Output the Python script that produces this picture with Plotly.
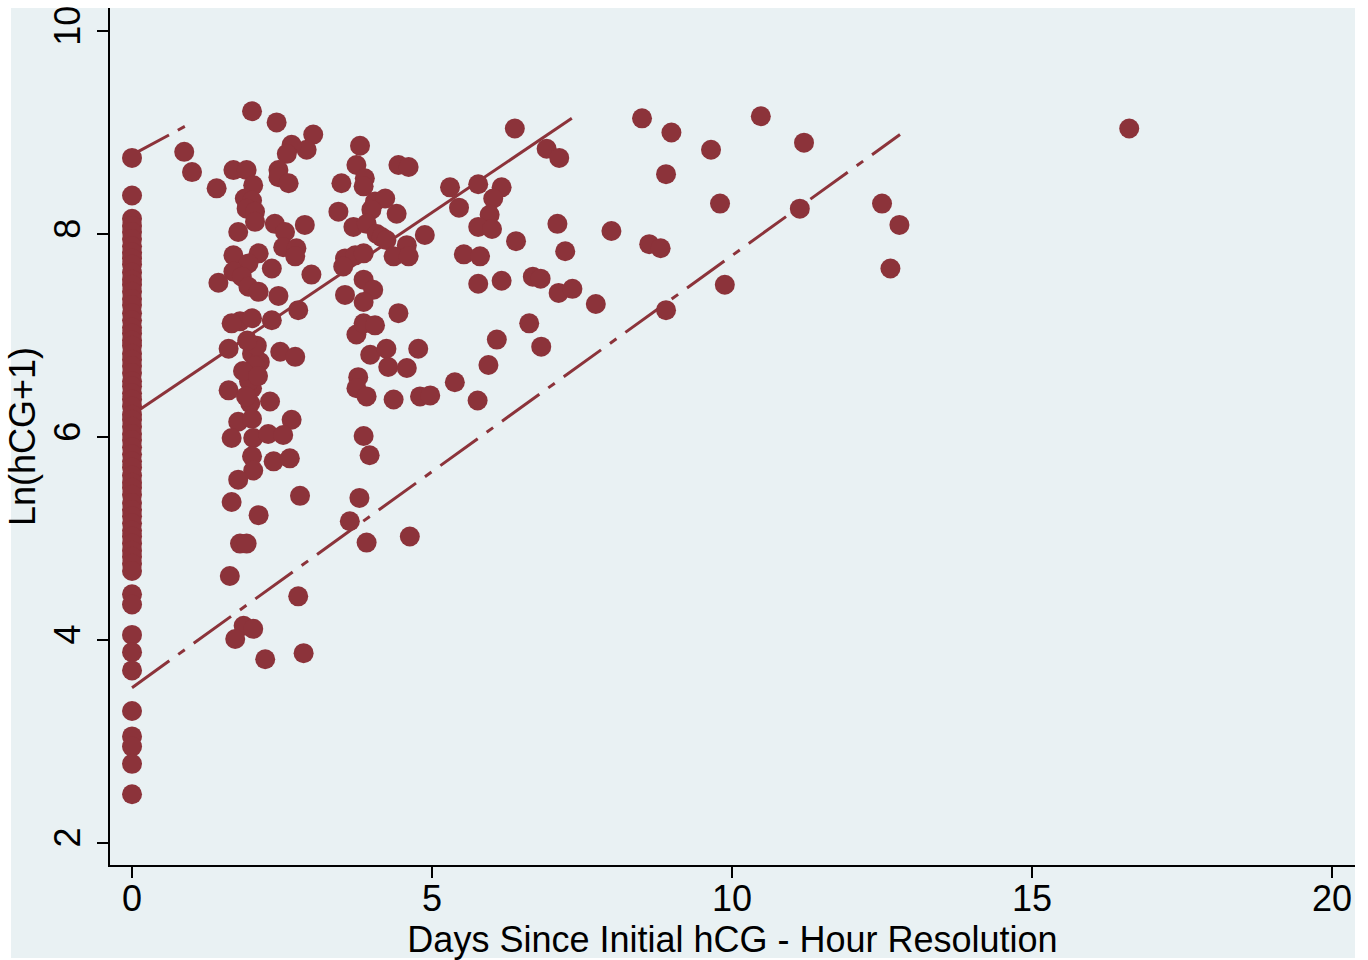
import plotly.graph_objects as go

# ---- data ----
day0_y = [8.75, 8.38, 8.15, 8.08, 8.02, 7.95, 7.88, 7.82, 7.76, 7.70, 7.62, 7.55, 7.50,
          7.43, 7.36, 7.30, 7.22, 7.15, 7.08, 7.02, 6.95, 6.90, 6.82, 6.76, 6.70, 6.63,
          6.55, 6.50, 6.43, 6.37, 6.30, 6.22, 6.17, 6.10, 6.03, 5.97, 5.90, 5.83, 5.76,
          5.70, 5.62, 5.55, 5.50, 5.43, 5.35, 5.28, 5.22, 5.15, 5.08, 5.02, 4.95, 4.88,
          4.82, 4.75, 4.68, 4.45, 4.35, 4.05, 3.88, 3.70, 3.30, 3.05, 2.95, 2.78, 2.48]
day0_x = [0.0] * len(day0_y)

early_x = [0.87, 1.00, 2.00, 2.41, 3.02, 2.91, 2.66, 2.58, 2.44, 2.44, 2.61, 1.69, 1.91,
           2.02, 1.41, 1.88, 2.00, 1.91, 2.05, 2.05, 1.77, 2.38, 2.55, 2.88, 2.52, 2.74,
           2.72, 2.99, 1.69, 2.11, 2.33, 1.94, 1.69, 1.83, 1.44, 1.94, 2.11, 2.44, 2.77,
           2.33, 1.80, 2.00, 1.66, 1.61, 2.00, 2.13, 2.47, 2.72, 2.02, 1.61, 2.00, 2.30,
           1.97, 1.77, 2.00, 2.66, 1.66, 2.02, 2.27, 2.52, 2.00, 2.02, 2.36, 2.63, 1.77,
           1.66, 2.80, 2.11, 1.80, 1.91, 1.63, 2.77, 1.86, 2.02, 1.72, 2.22, 2.86, 1.95,
           2.05, 1.90, 2.08, 1.85, 1.92, 2.10]
early_y = [8.81, 8.61, 9.21, 9.10, 8.98, 8.83, 8.88, 8.79, 8.63, 8.56, 8.50, 8.63, 8.63,
           8.48, 8.45, 8.35, 8.33, 8.25, 8.22, 8.12, 8.02, 8.10, 8.02, 8.09, 7.87, 7.86,
           7.78, 7.60, 7.79, 7.81, 7.66, 7.71, 7.63, 7.58, 7.52, 7.48, 7.43, 7.39, 7.25,
           7.15, 7.14, 7.17, 7.12, 6.87, 6.82, 6.74, 6.84, 6.79, 6.63, 6.46, 6.48, 6.35,
           6.33, 6.15, 6.18, 6.17, 5.99, 5.99, 6.03, 6.02, 5.81, 5.67, 5.76, 5.79, 5.58,
           5.36, 5.42, 5.23, 4.95, 4.95, 4.63, 4.43, 4.14, 4.11, 4.01, 3.81, 3.87, 6.55,
           6.70, 6.40, 6.90, 6.65, 6.95, 6.60]

mid_x = [3.80, 3.74, 3.88, 3.86, 3.49, 4.44, 4.61, 3.44, 4.05, 4.22, 4.41, 3.99, 3.69,
         3.91, 4.08, 4.16, 4.24, 4.58, 4.88, 4.36, 4.61, 3.55, 3.72, 3.86, 3.52, 3.86,
         4.02, 3.55, 3.86, 4.44, 3.74, 3.86, 4.05, 3.97, 4.24, 4.27, 4.58, 4.77, 3.77,
         3.74, 3.91, 4.36, 4.80, 4.97, 3.86, 3.96, 3.79, 3.63, 3.91, 4.63]
mid_y = [8.87, 8.68, 8.55, 8.47, 8.50, 8.68, 8.66, 8.22, 8.32, 8.35, 8.20, 8.24, 8.07,
         8.10, 8.00, 7.97, 7.94, 7.89, 7.99, 7.78, 7.78, 7.76, 7.79, 7.81, 7.68, 7.55,
         7.45, 7.40, 7.33, 7.22, 7.01, 7.12, 7.10, 6.81, 6.87, 6.69, 6.68, 6.87, 6.59,
         6.48, 6.40, 6.37, 6.40, 6.41, 6.01, 5.82, 5.40, 5.17, 4.96, 5.02]

late_x = [6.38, 6.91, 7.12, 5.30, 5.77, 6.16, 6.02, 5.45, 5.96, 5.77, 6.00, 7.09, 6.40,
          7.99, 7.22, 5.53, 5.80, 5.77, 6.16, 6.68, 6.81, 7.11, 7.34, 7.73, 6.62, 6.08,
          6.82, 5.94, 5.38, 5.76, 8.50, 8.99, 9.65, 10.48, 11.20, 8.90, 9.80, 11.13,
          12.50, 12.79, 8.62, 8.81, 9.88, 12.64, 8.90, 16.62]
late_y = [9.04, 8.84, 8.75, 8.46, 8.49, 8.46, 8.35, 8.26, 8.19, 8.07, 8.05, 8.10, 7.93,
          8.03, 7.83, 7.80, 7.78, 7.51, 7.54, 7.58, 7.56, 7.42, 7.46, 7.31, 7.12, 6.96,
          6.89, 6.71, 6.54, 6.36, 9.14, 9.00, 8.83, 9.16, 8.90, 8.59, 8.30, 8.25, 8.30,
          8.09, 7.90, 7.86, 7.50, 7.66, 7.25, 9.04]

# fitted lines (end points)
median_x = [0.0, 7.33]
median_y = [6.22, 9.14]
upper_x = [0.0, 0.88]
upper_y = [8.78, 9.06]
lower_x = [0.0, 12.8]
lower_y = [3.53, 8.98]

x_ticks = [0, 5, 10, 15, 20]
y_ticks = [2, 4, 6, 8, 10]

# ---- styling ----
MARK = "#8C333A"
BG = "#E9F1F3"
FONT = "Arial, Liberation Sans, sans-serif"

all_x = day0_x + early_x + mid_x + late_x
all_y = day0_y + early_y + mid_y + late_y

fig = go.Figure()
fig.add_trace(go.Scatter(x=upper_x, y=upper_y, mode="lines",
                         line=dict(color=MARK, width=3, dash="42px,10px")))
fig.add_trace(go.Scatter(x=median_x, y=median_y, mode="lines",
                         line=dict(color=MARK, width=3)))
fig.add_trace(go.Scatter(x=lower_x, y=lower_y, mode="lines",
                         line=dict(color=MARK, width=3, dash="46px,11px,8px,11px")))
fig.add_trace(go.Scatter(x=all_x, y=all_y, mode="markers",
                         marker=dict(color=MARK, size=20, line=dict(width=0))))

W, H = 1368, 960
L, R, T, B = 110, 13, 8, 95
pw, ph = W - L - R, H - T - B

fig.add_shape(type="rect", xref="paper", yref="paper", layer="below",
              x0=(11 - L) / pw, x1=1.0, y0=-(958 - (H - B)) / ph, y1=1.0,
              fillcolor=BG, line=dict(width=0))

axis_common = dict(showline=True, linecolor="black", linewidth=2, ticks="outside",
                   ticklen=11, tickwidth=2, tickcolor="black", showgrid=False,
                   zeroline=False, automargin=False,
                   tickfont=dict(family=FONT, size=36, color="black"))

fig.update_layout(
    width=W, height=H,
    margin=dict(l=L, r=R, t=T, b=B, pad=0, autoexpand=False),
    paper_bgcolor="white", plot_bgcolor=BG,
    showlegend=False,
    font=dict(family=FONT, size=36, color="black"),
    xaxis=dict(range=[-0.367, 20.383], tickvals=x_ticks, ticklabelstandoff=-10,
               title=dict(text="Days Since Initial hCG - Hour Resolution",
                          font=dict(family=FONT, size=36, color="black"), standoff=2),
               **axis_common),
    yaxis=dict(range=[1.783, 10.227], tickvals=y_ticks, tickangle=-90,
               ticklabelstandoff=3,
               title=dict(text="Ln(hCG+1)",
                          font=dict(family=FONT, size=36, color="black"), standoff=0),
               **axis_common),
)

fig.write_html("out.html")
